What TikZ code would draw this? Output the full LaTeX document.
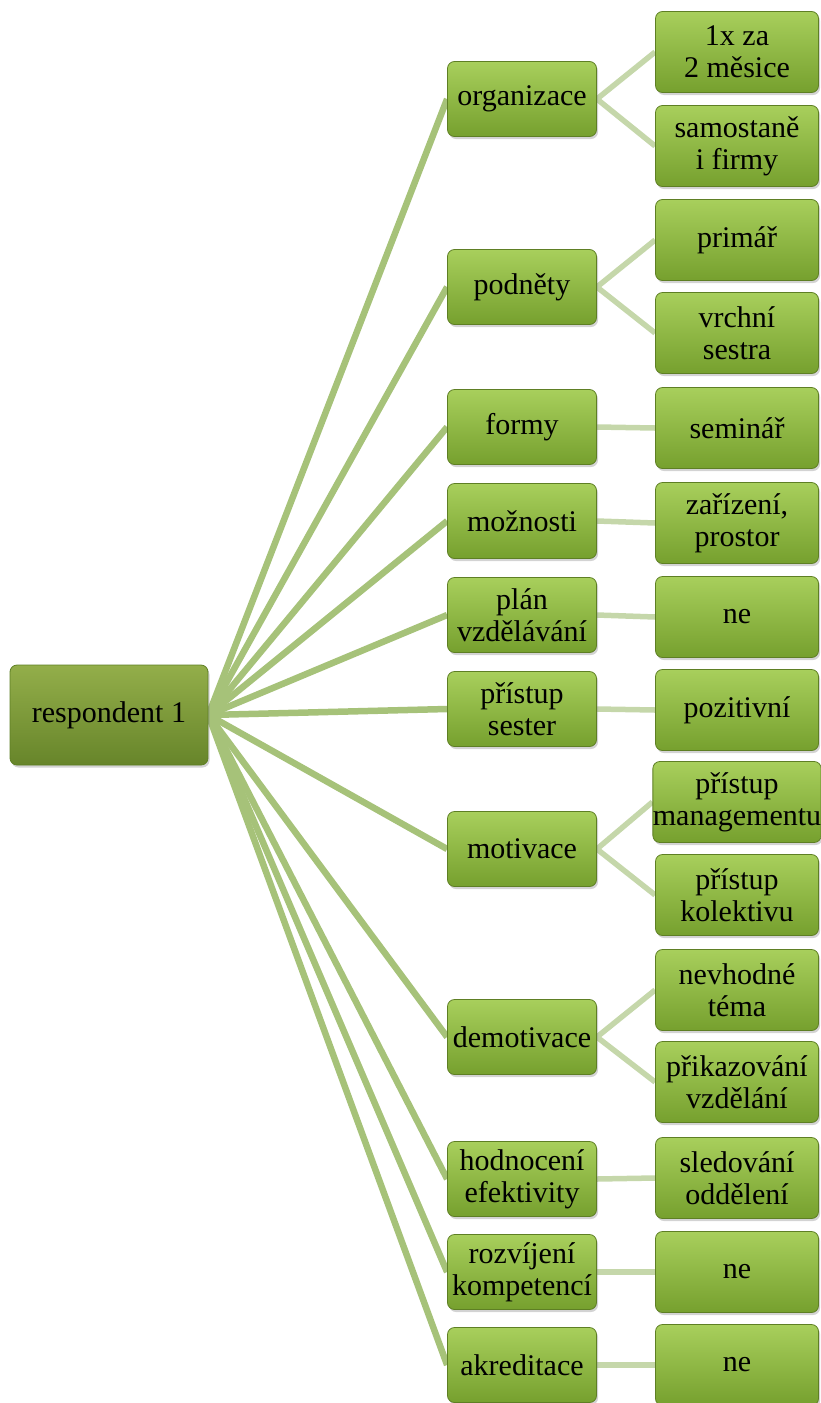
\documentclass[tikz,border=0pt]{standalone}
\usepackage{fontspec}
\setmainfont{Liberation Serif}
\newfontfamily\boxfont{Liberation Serif}
\usetikzlibrary{backgrounds,shadows}

\definecolor{leaftop}{HTML}{A8CF5C}
\definecolor{leafbot}{HTML}{76A02E}
\definecolor{leafrim}{HTML}{5E7F24}
\definecolor{roottop}{HTML}{93AE4A}
\definecolor{rootbot}{HTML}{67852A}
\definecolor{trunkline}{HTML}{A6C279}
\definecolor{twigline}{HTML}{C5D7AA}

\tikzset{
  box/.style={rectangle, rounded corners=7pt, draw=leafrim, line width=0.8pt,
    top color=leaftop, bottom color=leafbot, align=center, inner sep=0pt,
    font=\boxfont\fontsize{30}{32}\selectfont,
    drop shadow={opacity=0.35, shadow xshift=1.5pt, shadow yshift=-2.5pt}},
  rootbox/.style={box, top color=roottop, bottom color=rootbot,
    minimum width=198pt, minimum height=100pt},
  midbox/.style={box, minimum width=149pt, minimum height=75pt},
  leafbox/.style={box, minimum width=163pt, minimum height=81pt},
  trunk/.style={draw=trunkline, line width=6.5pt},
  twig/.style={draw=twigline, line width=5.5pt}
}

\begin{document}
\begin{tikzpicture}[x=1pt, y=-1pt]
    \useasboundingbox (0,0) rectangle (821,1403);

    % root
    \node[rootbox] (resp) at (109, 715) {respondent 1};

    % middle column
    \node[midbox] (organizace) at (522, 99) {organizace};
    \node[midbox] (podnety) at (522, 287) {podněty};
    \node[midbox] (formy) at (522, 427) {formy};
    \node[midbox] (moznosti) at (522, 521) {možnosti};
    \node[midbox] (plan) at (522, 615) {plán\\vzdělávání};
    \node[midbox] (pristup) at (522, 709) {přístup\\sester};
    \node[midbox] (motivace) at (522, 849) {motivace};
    \node[midbox] (demotivace) at (522, 1037) {demotivace};
    \node[midbox] (hodnoceni) at (522, 1179) {hodnocení\\efektivity};
    \node[midbox] (rozvijeni) at (522, 1272) {rozvíjení\\kompetencí};
    \node[midbox] (akreditace) at (522, 1365) {akreditace};

    % right column
    \node[leafbox] (mesice) at (737, 52) {1x za\\2 měsice};
    \node[leafbox] (firmy) at (737, 146) {samostaně\\i firmy};
    \node[leafbox] (primar) at (737, 240) {primář};
    \node[leafbox] (sestra) at (737, 333) {vrchní\\sestra};
    \node[leafbox] (seminar) at (737, 428) {seminář};
    \node[leafbox] (prostor) at (737, 523) {zařízení,\\prostor};
    \node[leafbox] (planne) at (737, 617) {ne};
    \node[leafbox] (pozitivni) at (737, 710) {pozitivní};
    \node[leafbox] (management) at (737, 802) {přístup\\managementu};
    \node[leafbox] (kolektiv) at (737, 895) {přístup\\kolektivu};
    \node[leafbox] (tema) at (737, 990) {nevhodné\\téma};
    \node[leafbox] (prikaz) at (737, 1082) {přikazování\\vzdělání};
    \node[leafbox] (sledovani) at (737, 1178) {sledování\\oddělení};
    \node[leafbox] (rozvne) at (737, 1272) {ne};
    \node[leafbox] (akrne) at (737, 1365) {ne};

    \begin{pgfonlayer}{background}
        \foreach \m in {organizace, podnety, formy, moznosti, plan, pristup,
                        motivace, demotivace, hodnoceni, rozvijeni, akreditace}
            \draw[trunk] (resp.east) -- (\m.west);

        \draw[twig] (organizace.east) -- (mesice.west);
        \draw[twig] (organizace.east) -- (firmy.west);
        \draw[twig] (podnety.east) -- (primar.west);
        \draw[twig] (podnety.east) -- (sestra.west);
        \draw[twig] (formy.east) -- (seminar.west);
        \draw[twig] (moznosti.east) -- (prostor.west);
        \draw[twig] (plan.east) -- (planne.west);
        \draw[twig] (pristup.east) -- (pozitivni.west);
        \draw[twig] (motivace.east) -- (management.west);
        \draw[twig] (motivace.east) -- (kolektiv.west);
        \draw[twig] (demotivace.east) -- (tema.west);
        \draw[twig] (demotivace.east) -- (prikaz.west);
        \draw[twig] (hodnoceni.east) -- (sledovani.west);
        \draw[twig] (rozvijeni.east) -- (rozvne.west);
        \draw[twig] (akreditace.east) -- (akrne.west);
    \end{pgfonlayer}
\end{tikzpicture}
\end{document}
